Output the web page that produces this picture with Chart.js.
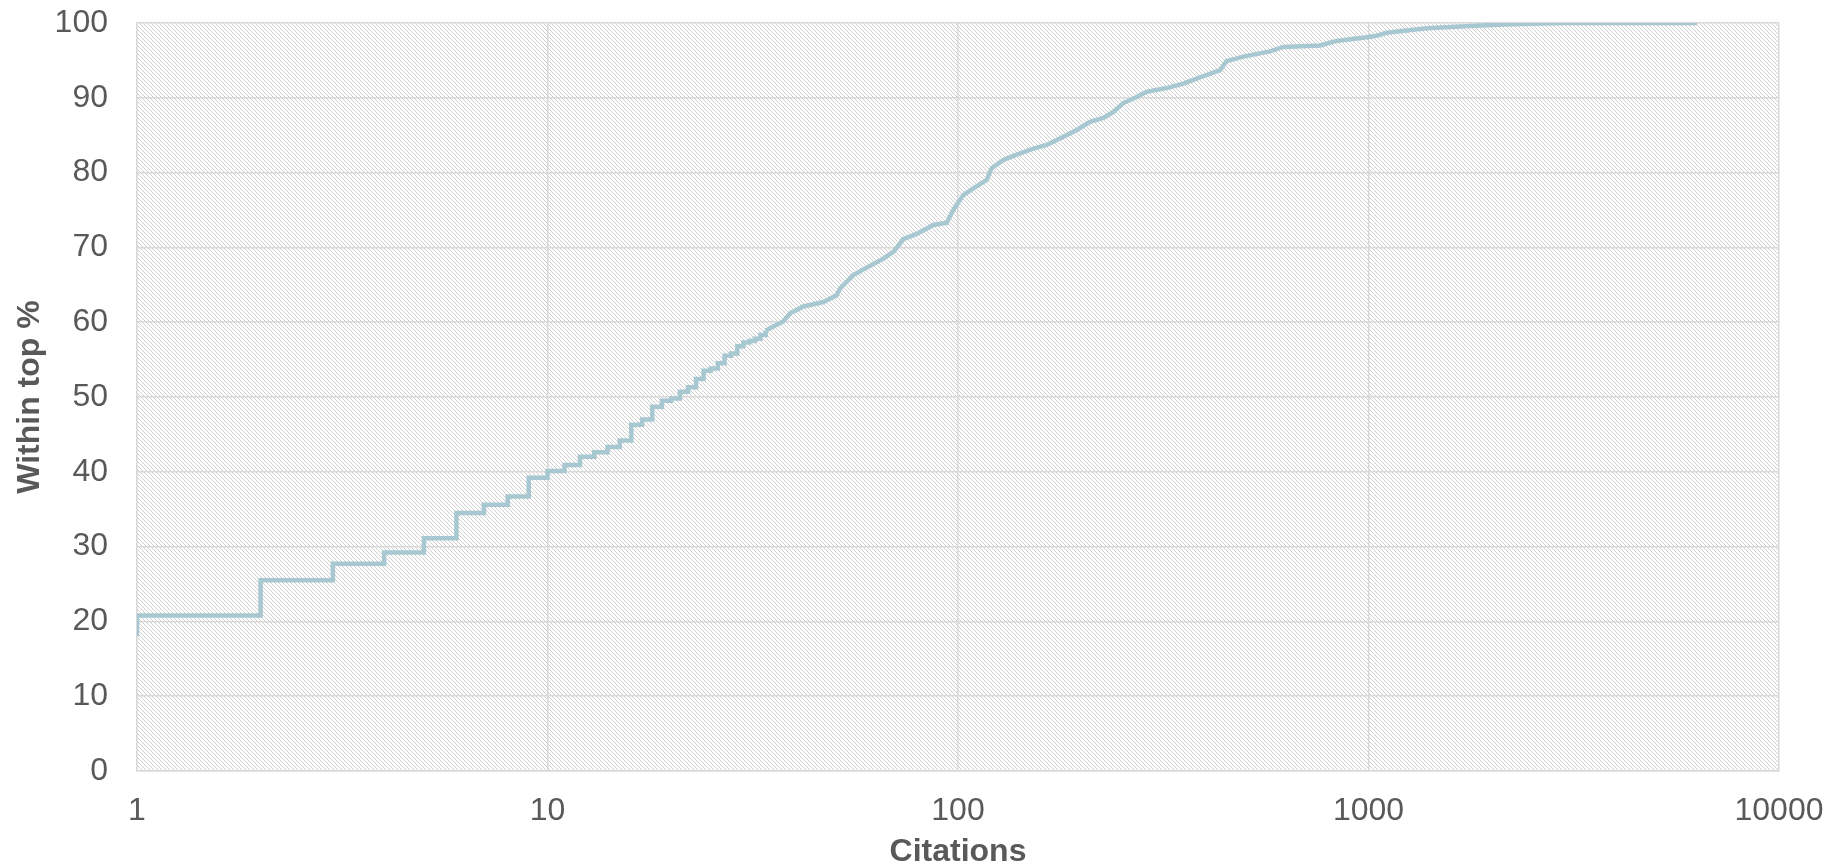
<!DOCTYPE html>
<html>
<head>
<meta charset="utf-8">
<script src="https://cdn.jsdelivr.net/npm/chart.js@4.4.1/dist/chart.umd.min.js"></script>
<style>
  html, body { margin: 0; padding: 0; background: #fff; }
  #wrap { width: 1832px; height: 868px; }
</style>
</head>
<body>
<div id="wrap"><canvas id="chart" width="1832" height="868"></canvas></div>
<script>
'use strict';

// Step part of the curve: one step per citation count (1..34)
const stepCitations = [1, 1, 2, 3, 4, 5, 6, 7, 8, 9, 10, 11, 12, 13, 14, 15, 16, 17, 18, 19, 20,
    21, 22, 23, 24, 25, 26, 27, 28, 29, 30, 31, 32, 33, 34];
const stepPercent = [18.0, 20.8, 25.5, 27.7, 29.2, 31.1, 34.5, 35.6, 36.7, 39.2, 40.1, 40.9, 42.0,
    42.6, 43.3, 44.2, 46.3, 47.0, 48.7, 49.5, 49.8, 50.7, 51.3, 52.4, 53.5, 53.8, 54.5, 55.5,
    55.8, 56.8, 57.3, 57.5, 57.8, 58.3, 58.9];

// Upper part: steps get too fine to read, so read as a path
const tailCitations = [34, 37.5, 39, 42, 47, 50.6, 51.6, 55.6, 59.9, 65.8, 69.6, 73.6, 79.3, 87.1,
    93.9, 97.4, 103, 109, 117.4, 120.8, 129, 139, 152.6, 164.5, 180.5, 194.6, 209.7, 226, 239,
    252.7, 272.4, 288, 322, 354, 396, 435, 451, 495.5, 575, 620, 762, 836, 990, 1047, 1107, 1386,
    1767, 2131, 3000, 6324];
const tailPercent = [58.9, 60.1, 61.2, 62.1, 62.7, 63.6, 64.5, 66.3, 67.3, 68.5, 69.4, 71.1, 71.8,
    73.0, 73.3, 75.0, 77.0, 77.9, 79.0, 80.6, 81.7, 82.4, 83.2, 83.7, 84.8, 85.7, 86.8, 87.3, 88.1,
    89.3, 90.1, 90.8, 91.3, 91.9, 92.9, 93.7, 94.9, 95.5, 96.2, 96.8, 97.0, 97.6, 98.1, 98.3, 98.7,
    99.3, 99.6, 99.8, 100, 100];

const xTicks = [1, 10, 100, 1000, 10000];
const yTicks = [0, 10, 20, 30, 40, 50, 60, 70, 80, 90, 100];

const LINE_COLOR = '#a8c8d1';
const TEXT_COLOR = '#595959';
const GRID_COLOR = '#d9d9d9';
const FONT = 'Liberation Sans, Arial, sans-serif';

function makeHatch(ctx) {
    const c = document.createElement('canvas');
    c.width = 4; c.height = 4;
    const g = c.getContext('2d');
    g.fillStyle = '#ffffff';
    g.fillRect(0, 0, 4, 4);
    g.fillStyle = '#cfcfcf';
    for (let r = 0; r < 4; r++) {
        g.fillRect(r, r, 1, 1);
    }
    return ctx.createPattern(c, 'repeat');
}

const hatchBackground = {
    id: 'hatchBackground',
    beforeDraw(chart) {
        const { ctx, chartArea: a } = chart;
        ctx.save();
        ctx.fillStyle = '#ffffff';
        ctx.fillRect(0, 0, chart.width, chart.height);
        ctx.fillStyle = makeHatch(ctx);
        ctx.fillRect(a.left, a.top, a.right - a.left, a.bottom - a.top);
        ctx.restore();
    }
};

const toPoints = (xs, ys) => xs.map((x, i) => ({ x: x, y: ys[i] }));

const ctx = document.getElementById('chart').getContext('2d');
new Chart(ctx, {
    type: 'line',
    data: {
        datasets: [{
            data: toPoints(stepCitations, stepPercent),
            borderColor: LINE_COLOR,
            borderWidth: 4.5,
            stepped: true,
            pointRadius: 0,
            fill: false
        }, {
            data: toPoints(tailCitations, tailPercent),
            borderColor: LINE_COLOR,
            borderWidth: 4.5,
            tension: 0,
            pointRadius: 0,
            fill: false
        }]
    },
    options: {
        responsive: false,
        animation: false,
        layout: { padding: { left: 0, top: 23, right: 53, bottom: 0 } },
        plugins: {
            legend: { display: false },
            tooltip: { enabled: false }
        },
        scales: {
            x: {
                type: 'logarithmic',
                min: 1,
                max: 10000,
                afterBuildTicks(scale) { scale.ticks = xTicks.map(v => ({ value: v, major: true })); },
                afterFit(scale) {
                    scale.height = 97;
                    scale.paddingLeft = 0;
                    scale.paddingRight = 0;
                },
                grid: { color: GRID_COLOR, lineWidth: 1.5, drawTicks: false },
                border: { color: GRID_COLOR, width: 1.5 },
                ticks: {
                    color: TEXT_COLOR,
                    font: { family: FONT, size: 32 },
                    padding: 21,
                    maxRotation: 0,
                    autoSkip: false,
                    callback: v => String(v)
                },
                title: {
                    display: true,
                    text: 'Citations',
                    color: TEXT_COLOR,
                    font: { family: FONT, size: 32, weight: 'bold', lineHeight: 1 },
                    padding: { top: 0, bottom: 0 }
                }
            },
            y: {
                min: 0,
                max: 100,
                afterBuildTicks(scale) { scale.ticks = yTicks.map(v => ({ value: v })); },
                afterFit(scale) {
                    scale.width = 137;
                    scale.paddingTop = 0;
                    scale.paddingBottom = 0;
                },
                grid: { color: GRID_COLOR, lineWidth: 1.5, drawTicks: false },
                border: { color: GRID_COLOR, width: 1.5 },
                ticks: {
                    color: TEXT_COLOR,
                    font: { family: FONT, size: 32 },
                    padding: 29
                },
                title: {
                    display: true,
                    text: 'Within top %',
                    color: TEXT_COLOR,
                    font: { family: FONT, size: 32, weight: 'bold', lineHeight: 1 },
                    padding: { top: 14, bottom: 0 }
                }
            }
        }
    },
    plugins: [hatchBackground]
});
</script>
</body>
</html>
